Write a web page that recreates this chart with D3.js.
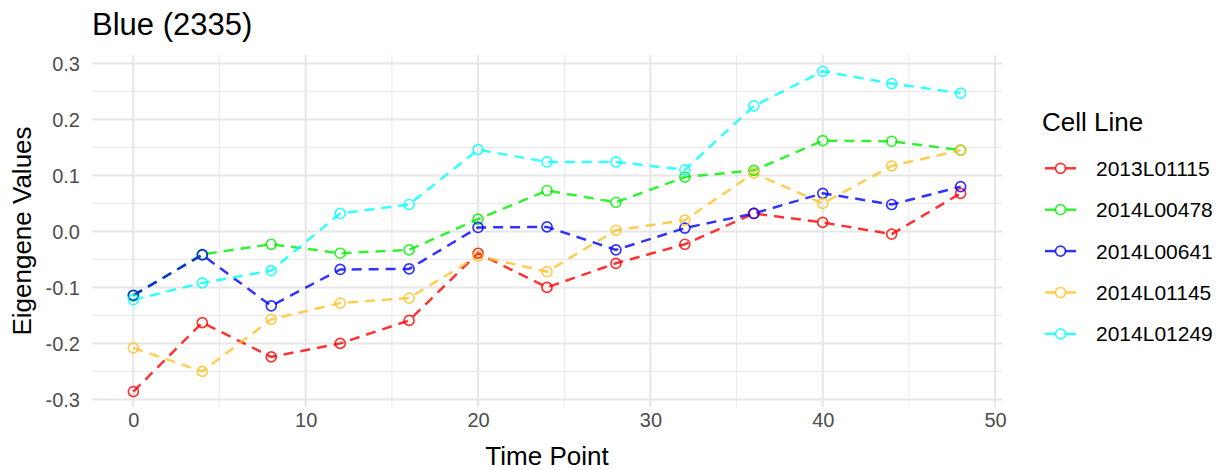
<!DOCTYPE html>
<html>
<head>
<meta charset="utf-8">
<script src="https://cdn.jsdelivr.net/npm/d3@7"></script>
<style>
  html, body { margin: 0; padding: 0; background: #fff; }
  svg { display: block; font-family: "Liberation Sans", Arial, Helvetica, sans-serif; }
</style>
</head>
<body>
<svg id="chart" width="1219" height="470"></svg>
<script>
const timePoints = [0, 4, 8, 12, 16, 20, 24, 28, 32, 36, 40, 44, 48];
const cellLines = ["2013L01115", "2014L00478", "2014L00641", "2014L01145", "2014L01249"];
const colors = ["#FF0000", "#00EE00", "#0000FF", "#FFC125", "#00FFFF"];

const v2013L01115 = [-0.286, -0.163, -0.224, -0.200, -0.159, -0.039, -0.100, -0.057, -0.023, 0.032, 0.016, -0.005, 0.068];
const v2014L00478 = [-0.115, -0.041, -0.023, -0.039, -0.033, 0.022, 0.073, 0.052, 0.097, 0.109, 0.162, 0.161, 0.145];
const v2014L00641 = [-0.114, -0.042, -0.133, -0.068, -0.067, 0.007, 0.008, -0.033, 0.006, 0.032, 0.068, 0.048, 0.080];
const v2014L01145 = [-0.208, -0.250, -0.157, -0.128, -0.119, -0.044, -0.072, 0.002, 0.020, 0.104, 0.050, 0.117, 0.145];
const v2014L01249 = [-0.122, -0.092, -0.070, 0.032, 0.048, 0.146, 0.124, 0.124, 0.110, 0.224, 0.286, 0.264, 0.247];

const seriesValues = [v2013L01115, v2014L00478, v2014L00641, v2014L01145, v2014L01249];

const xTicks = [0, 10, 20, 30, 40, 50];
const xMinor = [5, 15, 25, 35, 45];
const yTicks = [-0.3, -0.2, -0.1, 0.0, 0.1, 0.2, 0.3];
const yMinor = [-0.25, -0.15, -0.05, 0.05, 0.15, 0.25];

const titleText = "Blue (2335)";
const xTitle = "Time Point";
const yTitle = "Eigengene Values";
const legendTitle = "Cell Line";

const svg = d3.select("#chart");
const panel = { left: 92, right: 1002, top: 55, bottom: 407 };

const x = d3.scaleLinear().domain([-2.4, 50.4]).range([panel.left, panel.right]);
const y = d3.scaleLinear().domain([-0.3136, 0.315]).range([panel.bottom, panel.top]);

const grid = svg.append("g");
grid.selectAll(".hmin").data(yMinor).join("line")
  .attr("x1", panel.left).attr("x2", panel.right)
  .attr("y1", d => y(d)).attr("y2", d => y(d))
  .attr("stroke", "#EBEBEB").attr("stroke-width", 1.1);
grid.selectAll(".vmin").data(xMinor).join("line")
  .attr("y1", panel.top).attr("y2", panel.bottom)
  .attr("x1", d => x(d)).attr("x2", d => x(d))
  .attr("stroke", "#EBEBEB").attr("stroke-width", 1.1);
grid.selectAll(".hmaj").data(yTicks).join("line")
  .attr("x1", panel.left).attr("x2", panel.right)
  .attr("y1", d => y(d)).attr("y2", d => y(d))
  .attr("stroke", "#E6E6E6").attr("stroke-width", 2);
grid.selectAll(".vmaj").data(xTicks).join("line")
  .attr("y1", panel.top).attr("y2", panel.bottom)
  .attr("x1", d => x(d)).attr("x2", d => x(d))
  .attr("stroke", "#E6E6E6").attr("stroke-width", 2);

const yAxis = d3.axisLeft(y).tickValues(yTicks).tickSize(0).tickPadding(0)
  .tickFormat(d => d3.format(".1f")(d).replace("−", "-"));
const gy = svg.append("g").attr("transform", `translate(${panel.left - 12},0)`).call(yAxis);
gy.select(".domain").remove();
gy.selectAll("text").attr("font-size", 20).attr("fill", "#4D4D4D")
  .attr("font-family", "'Liberation Sans', Arial, sans-serif").attr("dy", "0.36em");

const xAxis = d3.axisBottom(x).tickValues(xTicks).tickSize(0).tickPadding(0).tickFormat(d3.format("d"));
const gx = svg.append("g").attr("transform", `translate(0,${panel.bottom + 6})`).call(xAxis);
gx.select(".domain").remove();
gx.selectAll("text").attr("font-size", 20).attr("fill", "#4D4D4D")
  .attr("font-family", "'Liberation Sans', Arial, sans-serif").attr("dy", "0.72em");

const line = d3.line().x((d, i) => x(timePoints[i])).y(d => y(d));
const linesG = svg.append("g");
seriesValues.forEach((vals, s) => {
  linesG.append("path").datum(vals)
    .attr("d", line)
    .attr("fill", "none")
    .attr("stroke", colors[s])
    .attr("stroke-opacity", 0.8)
    .attr("stroke-width", 2.5)
    .attr("stroke-dasharray", "10,7");
});
const ptsG = svg.append("g");
seriesValues.forEach((vals, s) => {
  ptsG.selectAll(null).data(vals).join("circle")
    .attr("cx", (d, i) => x(timePoints[i]))
    .attr("cy", d => y(d))
    .attr("r", 5)
    .attr("fill", "none")
    .attr("stroke", colors[s])
    .attr("stroke-opacity", 0.8)
    .attr("stroke-width", 1.7);
});

svg.append("text").attr("x", 92).attr("y", 35).attr("font-size", 31).attr("fill", "#000").text(titleText);
svg.append("text").attr("x", (panel.left + panel.right) / 2).attr("y", 465)
  .attr("text-anchor", "middle").attr("font-size", 26).attr("fill", "#000").text(xTitle);
svg.append("text").attr("transform", `translate(31,${(panel.top + panel.bottom) / 2}) rotate(-90)`)
  .attr("text-anchor", "middle").attr("font-size", 26).attr("fill", "#000").text(yTitle);

const lg = svg.append("g");
lg.append("text").attr("x", 1042).attr("y", 131).attr("font-size", 26).attr("fill", "#000").text(legendTitle);
const legendY0 = 168.3, legendStep = 41.4;
cellLines.forEach((name, i) => {
  const cy = legendY0 + i * legendStep;
  lg.append("line").attr("x1", 1045).attr("x2", 1076).attr("y1", cy).attr("y2", cy)
    .attr("stroke", colors[i]).attr("stroke-opacity", 0.8).attr("stroke-width", 2.5);
  lg.append("circle").attr("cx", 1060.5).attr("cy", cy).attr("r", 5)
    .attr("fill", "#fff").attr("stroke", colors[i]).attr("stroke-opacity", 0.8).attr("stroke-width", 1.7);
  lg.append("text").attr("x", 1096).attr("y", cy + 7.5).attr("font-size", 21).attr("fill", "#000").text(name);
});
</script>
</body>
</html>
